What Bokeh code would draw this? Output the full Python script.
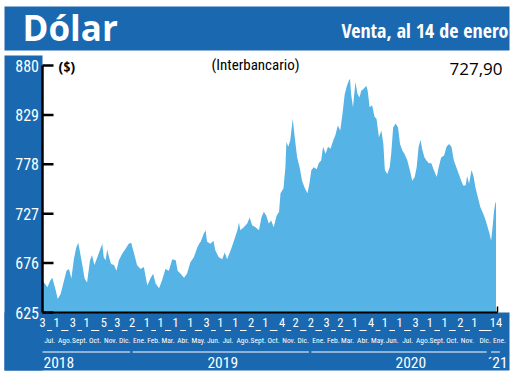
import pandas as pd
from bokeh.plotting import figure
from bokeh.models import Range1d, ColumnDataSource
from bokeh.embed import file_html
from bokeh.resources import INLINE
from bokeh.core.properties import value

# ---------------- data ----------------
dates = [
    "2018-07-03", "2018-07-06", "2018-07-13", "2018-07-19", "2018-07-23", "2018-07-30",
    "2018-08-03", "2018-08-09", "2018-08-16", "2018-08-21", "2018-08-26", "2018-08-31",
    "2018-09-05", "2018-09-10", "2018-09-14", "2018-09-17", "2018-09-22", "2018-09-27",
    "2018-10-02", "2018-10-08", "2018-10-12", "2018-10-17", "2018-10-23", "2018-10-28",
    "2018-11-02", "2018-11-05", "2018-11-09", "2018-11-12", "2018-11-16", "2018-11-20", "2018-11-26",
    "2018-12-01", "2018-12-06", "2018-12-13", "2018-12-20", "2018-12-26", "2018-12-31",
    "2019-01-06", "2019-01-12", "2019-01-19", "2019-01-26",
    "2019-02-02", "2019-02-09", "2019-02-14", "2019-02-19", "2019-02-26",
    "2019-03-04", "2019-03-11", "2019-03-18", "2019-03-25",
    "2019-04-01", "2019-04-05", "2019-04-11", "2019-04-18", "2019-04-24",
    "2019-05-01", "2019-05-08", "2019-05-15", "2019-05-20", "2019-05-22", "2019-05-28",
    "2019-06-01", "2019-06-04", "2019-06-11", "2019-06-17", "2019-06-21", "2019-06-28",
    "2019-07-05", "2019-07-10", "2019-07-15", "2019-07-22", "2019-07-29",
    "2019-08-05", "2019-08-08", "2019-08-11", "2019-08-18", "2019-08-25", "2019-08-30",
    "2019-09-04", "2019-09-11", "2019-09-18", "2019-09-23", "2019-09-28",
    "2019-10-03", "2019-10-08", "2019-10-13", "2019-10-18", "2019-10-24", "2019-10-29",
    "2019-11-01", "2019-11-07", "2019-11-11", "2019-11-13", "2019-11-17", "2019-11-21", "2019-11-26", "2019-11-30",
    "2019-12-05", "2019-12-10", "2019-12-15", "2019-12-20", "2019-12-26", "2019-12-30",
    "2020-01-03", "2020-01-08", "2020-01-14", "2020-01-18", "2020-01-23", "2020-01-27",
    "2020-02-01", "2020-02-06", "2020-02-11", "2020-02-17", "2020-02-21", "2020-02-26",
    "2020-03-02", "2020-03-07", "2020-03-11", "2020-03-15", "2020-03-20", "2020-03-22", "2020-03-24", "2020-03-28",
    "2020-04-02", "2020-04-06", "2020-04-10", "2020-04-14", "2020-04-19", "2020-04-24", "2020-04-27",
    "2020-05-01", "2020-05-06", "2020-05-11", "2020-05-15", "2020-05-20", "2020-05-25", "2020-05-29",
    "2020-06-01", "2020-06-06", "2020-06-11", "2020-06-14", "2020-06-18", "2020-06-23", "2020-06-28",
    "2020-07-02", "2020-07-07", "2020-07-11", "2020-07-17", "2020-07-22", "2020-07-27",
    "2020-08-01", "2020-08-05", "2020-08-09", "2020-08-13", "2020-08-16", "2020-08-21", "2020-08-25", "2020-08-30",
    "2020-09-04", "2020-09-09", "2020-09-15", "2020-09-19", "2020-09-24", "2020-09-30",
    "2020-10-05", "2020-10-10", "2020-10-15", "2020-10-20", "2020-10-25", "2020-10-30",
    "2020-11-04", "2020-11-08", "2020-11-13", "2020-11-16", "2020-11-20", "2020-11-25", "2020-11-29",
    "2020-12-03", "2020-12-08", "2020-12-13", "2020-12-19", "2020-12-24", "2020-12-28",
    "2021-01-01", "2021-01-04", "2021-01-07", "2021-01-10", "2021-01-13", "2021-01-14",
]
values = [
    658, 656, 651, 658, 661, 648,
    639, 644, 658, 668, 670, 660,
    680, 692, 697, 689, 675, 660,
    656, 679, 684, 674, 682, 689,
    696, 682, 679, 690, 682, 675, 674,
    668, 679, 686, 691, 696, 697,
    686, 674, 670, 672,
    653, 661, 665, 655, 650,
    658, 670, 668, 680,
    679, 668, 665, 661, 665,
    677, 682, 692, 697, 698, 706,
    710, 698, 696, 699, 689, 682,
    680, 687, 680, 689, 699,
    710, 718, 710, 713, 717, 723,
    715, 713, 710, 723, 729,
    725, 717, 720, 713, 725, 729,
    748, 753, 775, 801, 796, 803, 825, 806,
    785, 775, 761, 754, 748, 758,
    772, 775, 773, 779, 782, 796,
    789, 796, 794, 803, 808, 818,
    813, 832, 850, 858, 865, 866, 851, 837,
    863, 851, 847, 854, 856, 859, 854,
    837, 839, 827, 825, 806, 813, 799,
    772, 768, 775, 789, 816, 820, 816,
    799, 792, 789, 782, 772, 761,
    765, 775, 796, 803, 794, 785, 782, 779,
    779, 772, 765, 775, 785, 787,
    796, 799, 796, 782, 775, 768,
    761, 756, 756, 766, 758, 772, 766,
    754, 744, 734, 727, 720, 713,
    706, 699, 713, 730, 739, 738,
]
assert len(dates) == len(values)

y_ticks = [625, 676, 727, 778, 829, 880]

tick_dates = [
    "2018-07-03", "2018-08-01", "2018-09-03", "2018-10-01", "2018-11-05", "2018-12-03",
    "2019-01-02", "2019-02-01", "2019-03-01", "2019-04-01", "2019-05-01", "2019-06-03",
    "2019-07-01", "2019-08-01", "2019-09-02", "2019-10-01", "2019-11-04", "2019-12-02",
    "2020-01-02", "2020-02-03", "2020-03-02", "2020-04-01", "2020-05-04", "2020-06-01",
    "2020-07-01", "2020-08-03", "2020-09-01", "2020-10-01", "2020-11-02", "2020-12-01",
    "2021-01-14",
]
month_labels = [
    "Jul.", "Ago.", "Sept.", "Oct.", "Nov.", "Dic.",
    "Ene.", "Feb.", "Mar.", "Abr.", "May.", "Jun.", "Jul.", "Ago.", "Sept.", "Oct.", "Nov.", "Dic.",
    "Ene.", "Feb.", "Mar.", "Abr.", "May.", "Jun.", "Jul.", "Ago.", "Sept.", "Oct.", "Nov.", "Dic.",
    "Ene.",
]
year_labels = ["2018", "2019", "2020", "\u00b421"]
year_label_dates = ["2018-07-03", "2019-07-06", "2020-07-24", "2021-01-17"]
year_spans = [("2018-07-03", "2018-12-29"), ("2019-01-03", "2019-12-29"),
              ("2020-01-03", "2020-12-26"), ("2021-01-04", "2021-01-22")]

title_text = "D\u00f3lar"
subtitle_text = "Venta, al 14 de enero"
unit_text = "($)"
series_text = "(Interbancario)"
last_value_text = "727,90"

# ---------------- style / layout ----------------
BLUE = "#1a69b0"
AREA = "#56b3e5"
COND = "Roboto Condensed"
CONDB = "Open Sans Condensed"
W, H = 514, 374
M = 0                       # page offset of the canvas
PX_X0, PX_X1 = 42.0, 495.5  # page x of first / last date
PX_YT, PX_YB = 65.0, 312.0  # page y of top / bottom tick


def ms(d):
    return pd.Timestamp(d).value / 1e6


t0, t1 = ms(dates[0]), ms(dates[-1])
mspp = (t1 - t0) / (PX_X1 - PX_X0)
xs = t0 - (PX_X0 - M) * mspp
xe = xs + W * mspp
vmin, vmax = y_ticks[0], y_ticks[-1]
upp = (vmax - vmin) / (PX_YB - PX_YT)
ye = vmax + (PX_YT - M) * upp
ys = ye - H * upp


def X(px):
    return xs + (px - M) * mspp


def Y(py):
    return ye - (py - M) * upp


p = figure(width=W, height=H, x_range=Range1d(xs, xe), y_range=Range1d(ys, ye),
           x_axis_type=None, y_axis_type=None, title=None,
           output_backend="svg", toolbar_location=None, min_border=0,
           outline_line_color=None, background_fill_color="white",
           border_fill_color="white")

src = ColumnDataSource(dict(x=[ms(d) for d in dates], v=values))
p.varea(x="x", y1=vmin, y2="v", source=src, fill_color=AREA)

# blue panels: header, left strip, bottom strip
p.quad(left=[X(4), X(4), X(4)], right=[X(509), X(42), X(509)],
       top=[Y(6), Y(55), Y(312)], bottom=[Y(50), Y(370), Y(370)],
       fill_color=BLUE, line_color=None)

# axis lines and ticks
p.segment(x0=[t0], y0=[vmax], x1=[t0], y1=[vmin], line_color="black", line_width=2.5)
tx_end = ms(tick_dates[-1]) + 1.5 * mspp
p.segment(x0=[t0], y0=[vmin], x1=[tx_end], y1=[vmin], line_color="black", line_width=2)
p.segment(x0=[tx_end], y0=[vmin], x1=[tx_end], y1=[vmin + 6 * upp], line_color="black", line_width=1.5)
p.segment(x0=[t0] * len(y_ticks), y0=y_ticks, x1=[t0 + 11 * mspp] * len(y_ticks), y1=y_ticks,
          line_color="black", line_width=2.5)
p.text(x=[X(38.5)] * len(y_ticks), y=y_ticks, text=[str(t) for t in y_ticks],
       text_font=value(COND), text_font_size=value("16px"), text_color="white",
       text_align="right", text_baseline="middle")

# headers
p.text(x=[X(22)], y=[Y(27)], text=[title_text], text_font=value("Open Sans"),
       text_font_style="bold", text_font_size=value("35px"), text_color="white",
       text_align="left", text_baseline="middle")
p.text(x=[X(508)], y=[Y(30)], text=[subtitle_text], text_font=value(CONDB),
       text_font_size=value("20px"), text_color="white",
       text_align="right", text_baseline="middle")
p.text(x=[X(58)], y=[Y(65.5)], text=[unit_text], text_font=value(CONDB),
       text_font_size=value("15px"), text_color="black",
       text_align="left", text_baseline="middle")
p.text(x=[X(255)], y=[Y(64.5)], text=[series_text], text_font=value(COND),
       text_font_size=value("15px"), text_color="black",
       text_align="center", text_baseline="middle")
p.text(x=[X(502)], y=[Y(68.5)], text=[last_value_text], text_font=value("Open Sans"),
       text_font_size=value("17px"), text_color="black",
       text_align="right", text_baseline="middle")

# bottom strip: day numbers, underlines, months, years
tick_ms = [ms(d) for d in tick_dates]
p.text(x=tick_ms, y=[Y(321.5)] * len(tick_ms), text=[str(pd.Timestamp(d).day) for d in tick_dates],
       text_font=value(COND), text_font_size=value("12.5px"), text_color="white",
       text_align="center", text_baseline="middle")
gap = 4.5 * mspp
n = len(tick_ms) - 1
p.segment(x0=[a + gap for a in tick_ms[:-1]], y0=[Y(330)] * n,
          x1=[b - gap for b in tick_ms[1:]], y1=[Y(330)] * n,
          line_color="white", line_width=1)
mid = [(a + b) / 2 for a, b in zip(tick_ms[:-1], tick_ms[1:])] + [tick_ms[-1] + 3.5 * mspp]
p.text(x=mid, y=[Y(339.5)] * len(mid), text=month_labels,
       text_font=value(COND), text_font_size=value("7.5px"), text_color="white",
       text_align="center", text_baseline="middle")
p.segment(x0=[ms(a) for a, b in year_spans], y0=[Y(351.5)] * len(year_spans),
          x1=[ms(b) for a, b in year_spans], y1=[Y(351.5)] * len(year_spans),
          line_color="white", line_width=1)
p.text(x=[ms(year_label_dates[0]) + 1 * mspp], y=[Y(362)], text=[year_labels[0]],
       text_font=value(COND), text_font_size=value("15.5px"), text_color="white",
       text_align="left", text_baseline="middle")
p.text(x=[ms(d) for d in year_label_dates[1:]], y=[Y(362)] * 3, text=year_labels[1:],
       text_font=value(COND), text_font_size=value("15.5px"), text_color="white",
       text_align="center", text_baseline="middle")

open("out.html", "w").write(file_html(p, INLINE))
